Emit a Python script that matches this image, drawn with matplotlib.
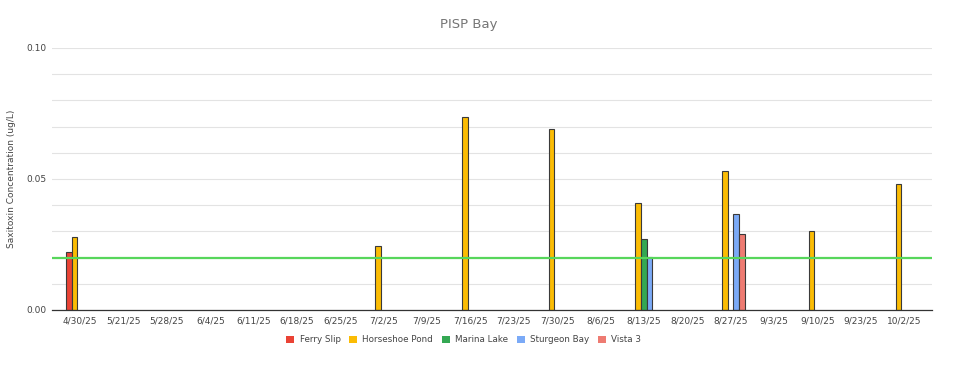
import numpy as np
import matplotlib
matplotlib.use("Agg")
import matplotlib.pyplot as plt
from matplotlib.patches import Patch

dates = ["4/30/25", "5/21/25", "5/28/25", "6/4/25", "6/11/25", "6/18/25", "6/25/25",
         "7/2/25", "7/9/25", "7/16/25", "7/23/25", "7/30/25", "8/6/25", "8/13/25",
         "8/20/25", "8/27/25", "9/3/25", "9/10/25", "9/23/25", "10/2/25"]

n = None
ferry_slip = [0.0221, n, n, n, n, n, n, n, n, n, n, n, n, n, n, n, n, n, n, n]
horseshoe_pond = [0.028, n, n, n, n, n, n, 0.0244, n, 0.0737, n, 0.069, n, 0.0407,
                  n, 0.053, n, 0.030, n, 0.048]
marina_lake = [n, n, n, n, n, n, n, n, n, n, n, n, n, 0.0271, n, n, n, n, n, n]
sturgeon_bay = [n, n, n, n, n, n, n, n, n, n, n, n, n, 0.0203, n, 0.0365, n, n, n, n]
vista_3 = [n, n, n, n, n, n, n, n, n, n, n, n, n, n, n, 0.0289, n, n, n, n]
threshold = 0.02

series = [("Ferry Slip", ferry_slip, "#ea4335"),
          ("Horseshoe Pond", horseshoe_pond, "#fbbc04"),
          ("Marina Lake", marina_lake, "#34a853"),
          ("Sturgeon Bay", sturgeon_bay, "#7baaf7"),
          ("Vista 3", vista_3, "#ee7b72")]

fig = plt.figure(figsize=(9.64, 3.69), dpi=100)
ax = fig.add_axes([0.054, 0.16, 0.913, 0.71])

x = np.arange(len(dates))
w = 0.13
for i, (name, vals, col) in enumerate(series):
    v = np.array([np.nan if a is None else a for a in vals], dtype=float)
    ax.bar(x + (i - 2) * w, v, width=w, color=col, edgecolor="#3a3a3a",
           linewidth=0.8, zorder=3)

ax.axhline(threshold, color="#57d65b", linewidth=1.6, zorder=4)

ax.set_xlim(-0.65, len(dates) - 0.35)
ax.set_ylim(0, 0.1)
ax.set_yticks([0.0, 0.05, 0.10])
ax.set_yticklabels(["0.00", "0.05", "0.10"])
ax.set_yticks(np.arange(0, 0.101, 0.01), minor=True)
ax.grid(axis="y", which="both", color="#e3e3e3", linewidth=0.8, zorder=0)
ax.set_xticks(x)
ax.set_xticklabels(dates)
ax.tick_params(axis="both", which="both", length=0, labelsize=6.5, colors="#444444")
ax.tick_params(axis="x", pad=5)
ax.tick_params(axis="y", pad=4)
for s in ["top", "right", "left"]:
    ax.spines[s].set_visible(False)
ax.spines["bottom"].set_color("#333333")
ax.spines["bottom"].set_linewidth(0.9)
ax.spines["bottom"].set_zorder(5)

ax.set_ylabel("Saxitoxin Concentration (ug/L)", fontsize=6.5, color="#444444")
ax.yaxis.set_label_coords(-0.041, 0.5)
fig.suptitle("PISP Bay", x=0.486, y=0.95, fontsize=9.5, color="#757575")

handles = [Patch(facecolor=c, edgecolor="none", label=nm) for nm, _, c in series]
fig.legend(handles=handles, loc="center", bbox_to_anchor=(0.481, 0.079), ncol=5,
           frameon=False, fontsize=6.3, handlelength=0.9, handleheight=0.9,
           handletextpad=0.6, columnspacing=1.0, labelcolor="#444444")

fig.savefig("out.png", dpi=100)
